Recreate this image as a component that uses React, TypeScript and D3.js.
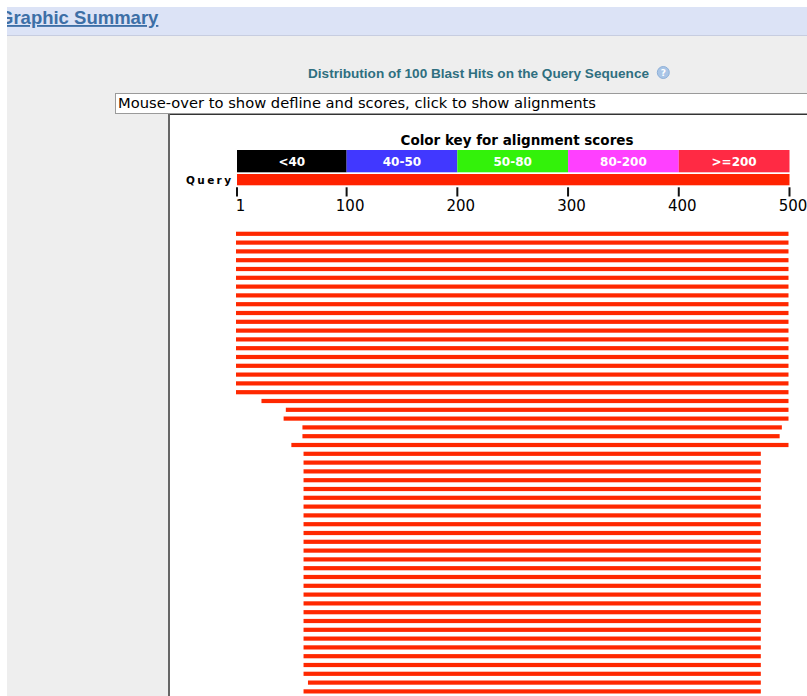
import React from 'react';
import * as d3 from 'd3';

// color key
const keyLabels = ['<40', '40-50', '50-80', '80-200', '>=200'];
const keyColors = ['#000000', '#4138ff', '#33f20a', '#ff40ff', '#ff2a44'];
const keyBounds = [1, 100, 200, 300, 400, 500];

// query axis ticks
const tickValues = [1, 100, 200, 300, 400, 500];
const queryLength = 500;

// hit alignments on the query (visible rows), start / end positions
const hitStarts = [
    1, 1, 1, 1, 1, 1, 1, 1, 1, 1,
    1, 1, 1, 1, 1, 1, 1, 1, 1, 24,
    46, 44, 61, 61, 51, 62, 62, 62, 62, 62,
    62, 62, 62, 62, 62, 62, 62, 62, 62, 62,
    62, 62, 62, 62, 62, 62, 62, 62, 62, 62,
    62, 66, 62,
];
const hitEnds = [
    500, 500, 500, 500, 500, 500, 500, 500, 500, 500,
    500, 500, 500, 500, 500, 500, 500, 500, 500, 500,
    500, 500, 494, 492, 500, 475, 475, 475, 475, 475,
    475, 475, 475, 475, 475, 475, 475, 475, 475, 475,
    475, 475, 475, 475, 475, 475, 475, 475, 475, 475,
    475, 475, 475,
];

const W = 807;
const H = 696;

function App() {
    const xScale = d3.scaleLinear().domain([1, queryLength]).range([237, 789.5]);
    const rowScale = d3.scaleLinear().domain([0, 1]).range([231.7, 240.5]);

    const hits = hitStarts.map((s, i) => ({ start: s, end: hitEnds[i], row: i }));

    return (
        <svg width={W} height={H} style={{ position: 'absolute', left: 0, top: 0 }}>
            <defs>
                <clipPath id="page">
                    <rect x={7} y={7} width={W - 7} height={H - 7} />
                </clipPath>
            </defs>
            <rect width={W} height={H} fill="#ffffff" />
            <g clipPath="url(#page)">
                {/* page background */}
                <rect x={0} y={0} width={W} height={H} fill="#eeeeee" />
                {/* header band */}
                <rect x={0} y={7} width={W} height={28} fill="#dce3f6" />
                <line x1={0} x2={W} y1={35.5} y2={35.5} stroke="#c7cde0" />
                <text x={-1} y={24} fontFamily="Liberation Sans, Arial, sans-serif" fontWeight="bold"
                    fontSize={18.5} fill="#3d6fa6" textDecoration="underline">Graphic Summary</text>

                {/* title */}
                <text x={308} y={77.5} fontFamily="Liberation Sans, Arial, sans-serif" fontWeight="bold"
                    fontSize={13} fill="#2f6f80" textLength={341} lengthAdjust="spacingAndGlyphs">
                    Distribution of 100 Blast Hits on the Query Sequence
                </text>
                <circle cx={663.3} cy={72.5} r={6} fill="#a9c5e6" stroke="#8fb0d8" />
                <text x={663.3} y={76.3} textAnchor="middle" fontFamily="DejaVu Sans, sans-serif"
                    fontWeight="bold" fontSize={9} fill="#ffffff">?</text>

                {/* mouse-over box */}
                <rect x={115.5} y={93.5} width={W} height={20} fill="#ffffff" stroke="#9a9a9a" />
                <text x={118} y={108} fontFamily="DejaVu Sans, Verdana, sans-serif" fontSize={14}
                    fill="#000000" textLength={478} lengthAdjust="spacingAndGlyphs">
                    Mouse-over to show defline and scores, click to show alignments
                </text>

                {/* graphic panel */}
                <rect x={168} y={114} width={W} height={H} fill="#ffffff" />
                <line x1={168} x2={W} y1={114.5} y2={114.5} stroke="#333333" />
                <line x1={169} x2={169} y1={114} y2={H} stroke="#666666" strokeWidth={2} />

                {/* color key */}
                <text x={517} y={145} textAnchor="middle" fontFamily="DejaVu Sans, sans-serif"
                    fontWeight="bold" fontSize={13.5} fill="#000000">Color key for alignment scores</text>
                {keyLabels.map((label, i) => {
                    const x0 = xScale(keyBounds[i]);
                    const x1 = xScale(keyBounds[i + 1]);
                    return (
                        <g key={label}>
                            <rect x={x0} y={150} width={x1 - x0} height={22.3} fill={keyColors[i]} />
                            <text x={(x0 + x1) / 2} y={166} textAnchor="middle" fontFamily="DejaVu Sans, sans-serif"
                                fontWeight="bold" fontSize={12} fill="#ffffff">{label}</text>
                        </g>
                    );
                })}

                {/* query bar and axis */}
                <text x={231} y={184} textAnchor="end" fontFamily="DejaVu Sans, sans-serif" fontWeight="bold"
                    fontSize={10.5} fill="#000000" textLength={45} lengthAdjust="spacing">Query</text>
                <rect x={xScale(1)} y={174} width={xScale(queryLength) - xScale(1)} height={11.3} fill="#ff2200" />
                {tickValues.map(t => (
                    <g key={t} transform={`translate(${xScale(t)}, 0)`}>
                        <line y1={187.3} y2={196.5} stroke="#111111" strokeWidth={2} />
                        <text x={3.5} y={210.5} textAnchor="middle" fontFamily="DejaVu Sans, sans-serif"
                            fontSize={15} fill="#000000">{t}</text>
                    </g>
                ))}

                {/* hits */}
                {hits.map(d => (
                    <rect
                        key={d.row}
                        x={xScale(d.start) - 1}
                        y={rowScale(d.row)}
                        width={xScale(d.end) - xScale(d.start)}
                        height={4.2}
                        fill="#ff2800"
                    />
                ))}
            </g>
        </svg>
    );
}

export default App;
